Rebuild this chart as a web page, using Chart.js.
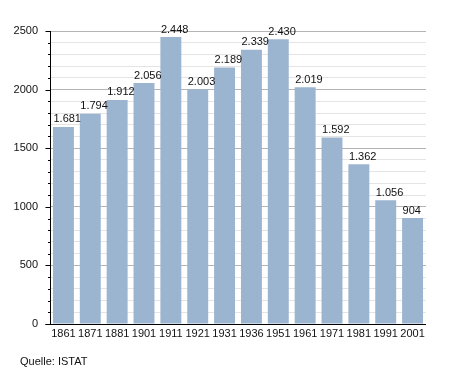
<!DOCTYPE html>
<html>
<head>
<meta charset="utf-8">
<script src="https://cdn.jsdelivr.net/npm/chart.js@4/dist/chart.umd.min.js"></script>
<style>
html,body{margin:0;padding:0;background:#fff;}
#wrap{width:455px;height:373px;position:relative;}
</style>
</head>
<body>
<div id="wrap"><canvas id="c" width="455" height="373"></canvas></div>
<script>
const years = ["1861","1871","1881","1901","1911","1921","1931","1936","1951","1961","1971","1981","1991","2001"];
const population = [1681,1794,1912,2056,2448,2003,2189,2339,2430,2019,1592,1362,1056,904];
const sourceText = "Quelle: ISTAT";
const yMax = 2500;
const yMajorStep = 500;
const yMinorStep = 100;

const FONT = "'Liberation Sans', Arial, sans-serif";

function fmt(v){
  return String(v).replace(/\B(?=(\d{3})+(?!\d))/g, ".");
}

const overlay = {
  id: 'overlay',
  afterDatasetsDraw(chart){
    const ctx = chart.ctx;
    const ys = chart.scales.y, xs = chart.scales.x;
    const area = chart.chartArea;
    ctx.save();
    // data labels
    ctx.fillStyle = '#111';
    ctx.font = '11px ' + FONT;
    ctx.textAlign = 'left';
    ctx.textBaseline = 'alphabetic';
    chart.getDatasetMeta(0).data.forEach((bar, i) => {
      ctx.fillText(fmt(population[i]), bar.x - bar.width/2 + 0.5, bar.y - 4.5);
    });
    // axes lines
    ctx.strokeStyle = '#000';
    ctx.lineWidth = 1;
    ctx.beginPath();
    const ax = Math.round(area.left) + 0.5;
    const ay = Math.round(area.bottom) + 0.5;
    ctx.moveTo(ax, Math.round(area.top));
    ctx.lineTo(ax, ay);
    ctx.moveTo(ax - 5, ay);
    ctx.lineTo(Math.round(area.right), ay);
    // ticks
    for (let v = 0; v <= yMax; v += yMinorStep) {
      const py = Math.round(ys.getPixelForValue(v)) + 0.5;
      const len = (v % yMajorStep === 0) ? 5 : 2.5;
      ctx.moveTo(ax - len, py);
      ctx.lineTo(ax, py);
    }
    ctx.stroke();
    // source
    ctx.fillStyle = '#111';
    ctx.font = '11px ' + FONT;
    ctx.textBaseline = 'middle';
    ctx.fillText(sourceText, 20, 362);
    ctx.restore();
  }
};

new Chart(document.getElementById('c'), {
  type: 'bar',
  data: {
    labels: years,
    datasets: [{
      data: population,
      backgroundColor: '#9bb4d0',
      borderWidth: 0,
      barPercentage: 0.78,
      categoryPercentage: 1.0
    }]
  },
  options: {
    responsive: false,
    animation: false,
    devicePixelRatio: 1,
    layout: { padding: { left: 0, right: 29, top: 31, bottom: 0 } },
    plugins: { legend: { display: false }, tooltip: { enabled: false } },
    scales: {
      x: {
        grid: { display: false, drawTicks: false },
        border: { display: false },
        ticks: { color: '#111', font: { family: FONT, size: 11 }, padding: 3, maxRotation: 0, autoSkip: false },
        afterFit(s){ s.height = 49; }
      },
      y: {
        min: 0, max: yMax,
        grid: {
          drawTicks: false,
          color: (c) => (c.tick && c.tick.value % yMajorStep === 0) ? '#b4b4b4' : '#e4e4e4',
          lineWidth: 1
        },
        border: { display: false },
        ticks: {
          stepSize: yMinorStep,
          autoSkip: false,
          color: '#111',
          font: { family: FONT, size: 11 },
          padding: 12,
          callback: (v) => (v % yMajorStep === 0) ? String(v) : ''
        },
        afterFit(s){ s.width = 50; }
      }
    }
  },
  plugins: [overlay]
});
</script>
</body>
</html>
